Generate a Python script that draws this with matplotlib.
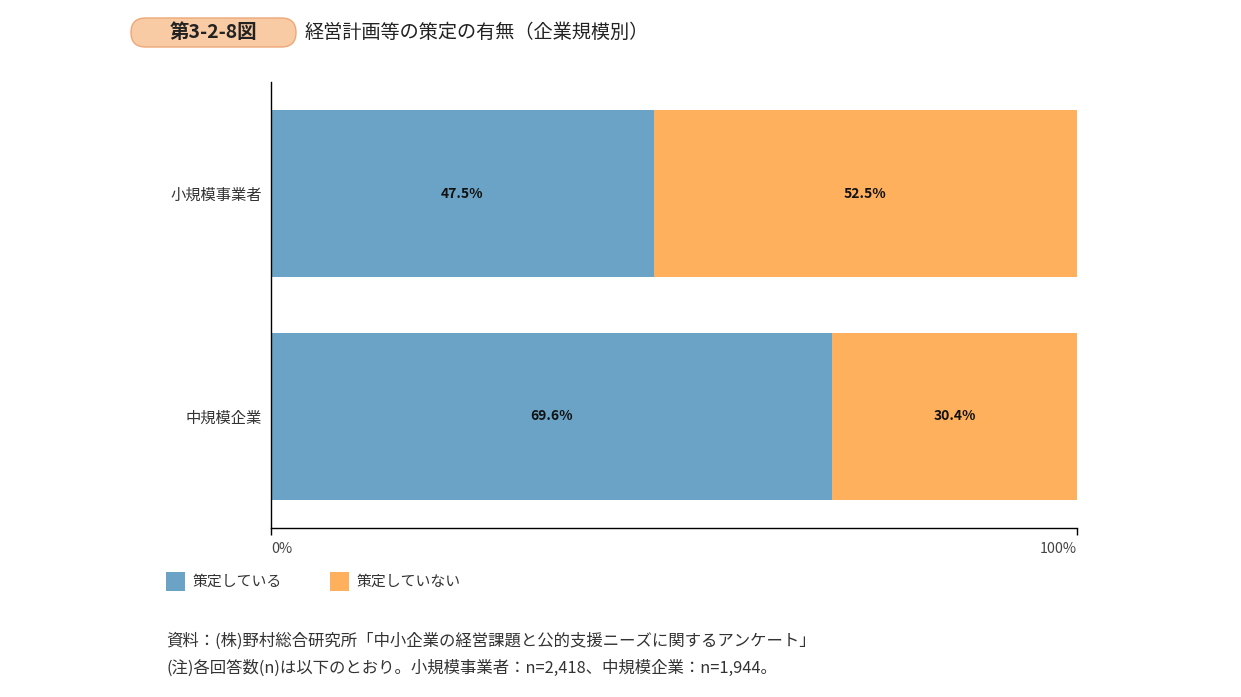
import matplotlib
matplotlib.use("Agg")
import matplotlib.pyplot as plt
from matplotlib.patches import FancyBboxPatch, Rectangle

plt.rcParams['font.family'] = ['Noto Sans CJK JP', 'DejaVu Sans']

categories = ["中規模企業", "小規模事業者"]
series_names = ["策定している", "策定していない"]
planned = [69.6, 47.5]
not_planned = [30.4, 52.5]
colors = ["#6AA3C5", "#FEB05D"]
xtick_labels = ["0%", "100%"]

W, H = 1241, 697
fig = plt.figure(figsize=(W / 100, H / 100), dpi=100)

def fx(px):
    return px / W

def fy(py):
    return 1 - py / H

# pixel-coordinate overlay for decorations
ov = fig.add_axes([0, 0, 1, 1])
ov.set_xlim(0, W)
ov.set_ylim(H, 0)
ov.axis("off")

ax = fig.add_axes([fx(271), fy(528), fx(1077) - fx(271), fy(82) - fy(528)])
ypos = list(range(len(categories)))
ax.barh(ypos, planned, height=0.75, color=colors[0], label=series_names[0])
ax.barh(ypos, not_planned, left=planned, height=0.75, color=colors[1], label=series_names[1])
for y, a, b in zip(ypos, planned, not_planned):
    ax.text(a / 2, y, f"{a:.1f}%", ha="center", va="center", fontsize=10, fontweight="bold", color="#111111")
    ax.text(a + b / 2, y, f"{b:.1f}%", ha="center", va="center", fontsize=10, fontweight="bold", color="#111111")

ax.set_xlim(0, 100)
ax.set_ylim(-0.5, 1.5)
ax.set_yticks(ypos)
ax.set_yticklabels(categories, fontsize=11, color="#333333")
ax.tick_params(axis="y", length=0, pad=6.5)
ax.set_xticks([0, 100])
ax.set_xticklabels(xtick_labels, fontsize=10.3, color="#444444")
ax.tick_params(axis="x", length=5, width=1, direction="out", pad=5)
lbls = ax.get_xticklabels()
lbls[0].set_ha("left")
lbls[1].set_ha("right")
for s in ["top", "right"]:
    ax.spines[s].set_visible(False)
for s in ["left", "bottom"]:
    ax.spines[s].set_color("#000000")
    ax.spines[s].set_linewidth(1)

# title badge (pill)
badge = FancyBboxPatch((131, 18), 165, 29,
                       boxstyle="round,pad=0,rounding_size=14.5",
                       facecolor="#F8CBA4", edgecolor="#EDA877", linewidth=1)
ov.add_patch(badge)
ov.text(214, 32.5, "第3-2-8図", ha="center", va="center", fontsize=14,
        fontweight="bold", color="#222222")
ov.text(305, 32.5, "経営計画等の策定の有無（企業規模別）", ha="left", va="center",
        fontsize=13.8, color="#222222")

# legend
for i, (name, c) in enumerate(zip(series_names, colors)):
    x0 = [166, 330][i]
    ov.add_patch(Rectangle((x0, 572), 19, 19, facecolor=c, edgecolor="none"))
    ov.text(x0 + 27, 581.5, name, ha="left", va="center", fontsize=10.7, color="#333333")

ov.text(166, 641, "資料：(株)野村総合研究所「中小企業の経営課題と公的支援ニーズに関するアンケート」",
        ha="left", va="center", fontsize=11.8, color="#333333")
ov.text(166, 668, "(注)各回答数(n)は以下のとおり。小規模事業者：n=2,418、中規模企業：n=1,944。",
        ha="left", va="center", fontsize=11.8, color="#333333")

fig.savefig("out.png", dpi=100, facecolor="white")
